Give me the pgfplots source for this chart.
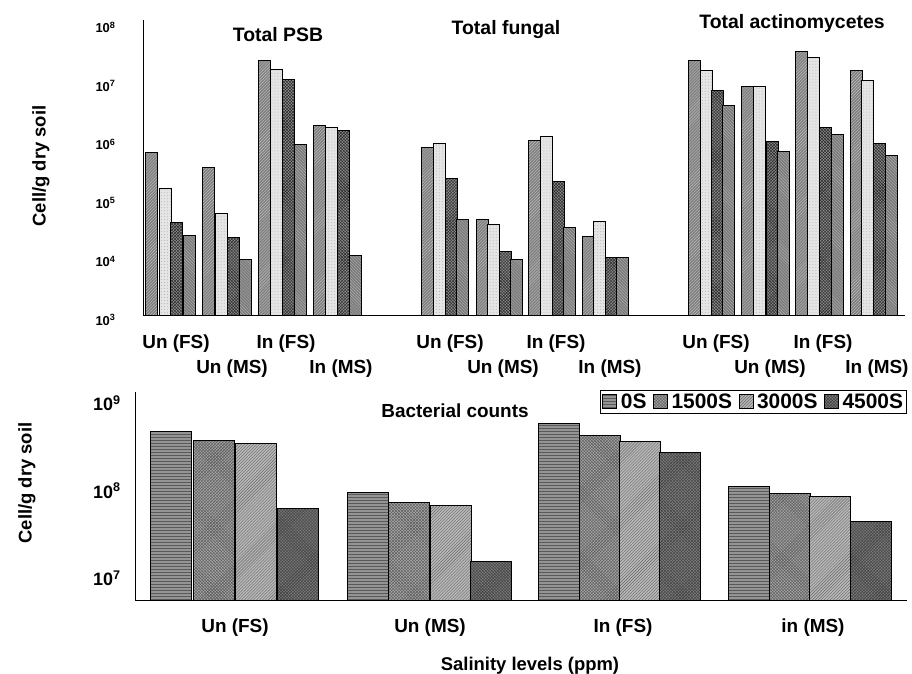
\documentclass[border=0pt]{standalone}
\usepackage{fontspec}
\setmainfont{Liberation Sans}
\usepackage{pgfplots}
\pgfplotsset{compat=1.18}
\usetikzlibrary{patterns}

\pgfplotsset{
  t0/.style={fill=black!50, draw=black, line width=1bp, postaction={pattern=north east lines, pattern color=black!25}},
  t1/.style={fill=black!10, draw=black, line width=1bp, postaction={pattern=dots, pattern color=black!30}},
  t2/.style={fill=black!45, draw=black, line width=1bp, postaction={pattern=crosshatch, pattern color=black!85}},
  t3/.style={fill=black!52, draw=black, line width=1bp, postaction={pattern=north west lines, pattern color=black!30}},
  b0/.style={fill=black!42, draw=black, line width=1bp, postaction={pattern=horizontal lines, pattern color=black!65}},
  b1/.style={fill=black!35, draw=black, line width=1bp, postaction={pattern=crosshatch, pattern color=black!65}},
  b2/.style={fill=black!28, draw=black, line width=1bp, postaction={pattern=north east lines, pattern color=black!60}},
  b3/.style={fill=black!52, draw=black, line width=1bp, postaction={pattern=crosshatch, pattern color=black!75}},
}

\begin{document}
\begin{tikzpicture}
\useasboundingbox (0bp,0bp) rectangle (912bp,674bp);

% ---------- top panel ----------
\begin{axis}[
  at={(143bp,358bp)}, anchor=south west,
  scale only axis, width=762bp, height=296bp,
  xmin=143, xmax=905,
  ymode=log, ymin=1e3, ymax=1.15e8, log origin=infty,
  ybar, bar width=12,
  axis x line*=bottom, axis y line*=left,
  axis line style={-, line width=1bp},
  major tick length=0pt, minor tick length=0pt,
  ytick={1e3,1e4,1e5,1e6,1e7,1e8},
  yticklabels={\textbf{10}\textsuperscript{\textbf{3}},\textbf{10}\textsuperscript{\textbf{4}},\textbf{10}\textsuperscript{\textbf{5}},\textbf{10}\textsuperscript{\textbf{6}},\textbf{10}\textsuperscript{\textbf{7}},\textbf{10}\textsuperscript{\textbf{8}}},
  yticklabel style={font=\fontsize{13}{14}\selectfont, xshift=-24bp, yshift=-4bp},
  xtick={176,286,450,556,716,823},
  xticklabels={Un (FS),In (FS),Un (FS),In (FS),Un (FS),In (FS)},
  extra x ticks={232,341,503,610,770,877},
  extra x tick labels={Un (MS),In (MS),Un (MS),In (MS),Un (MS),In (MS)},
  extra x tick style={xticklabel style={yshift=-25bp}},
  xticklabel style={font=\fontsize{19}{20}\selectfont\bfseries, yshift=-15bp},
]
% 0S
\addplot[t0, bar shift=0pt] coordinates {
 (151.5,6.2e5) (208.5,3.4e5) (264.5,2.3e7) (319.5,1.8e6)
 (427.5,7.6e5) (482,4.4e4) (534.5,1.0e6) (588,2.3e4)
 (694,2.3e7) (747.5,8.5e6) (801,3.3e7) (856,1.55e7)};
% 1500S
\addplot[t1, bar shift=0pt] coordinates {
 (165,1.5e5) (221,5.7e4) (276.5,1.66e7) (331.5,1.66e6)
 (439.5,8.9e5) (493.5,3.7e4) (546,1.18e6) (599,4.2e4)
 (706,1.55e7) (759.5,8.5e6) (813,2.6e7) (867.5,1.05e7)};
% 3000S
\addplot[t2, bar shift=0pt] coordinates {
 (176.5,4.0e4) (233,2.2e4) (288,1.1e7) (343,1.48e6)
 (451.5,2.2e5) (505,1.27e4) (558,2.0e5) (611,1.0e4)
 (717.5,7.3e6) (772,9.6e5) (825.5,1.66e6) (879,8.9e5)};
% 4500S
\addplot[t3, bar shift=0pt] coordinates {
 (189,2.4e4) (245,9.3e3) (300,8.5e5) (355,1.08e4)
 (462.5,4.5e4) (516.5,9.3e3) (569.5,3.2e4) (622.5,1.0e4)
 (728.5,4.0e6) (783,6.5e5) (837.5,1.26e6) (891,5.5e5)};
\end{axis}

% ---------- bottom panel ----------
\begin{axis}[
  at={(135bp,73bp)}, anchor=south west,
  scale only axis, width=772bp, height=209bp,
  xmin=135, xmax=907,
  ymode=log, ymin=5.5e6, ymax=1.34e9, log origin=infty,
  ybar, bar width=41,
  axis x line*=bottom, axis y line*=left,
  axis line style={-, line width=1bp},
  major tick length=0pt, minor tick length=0pt,
  ytick={1e7,1e8,1e9},
  yticklabels={10\textsuperscript{7},10\textsuperscript{8},10\textsuperscript{9}},
  yticklabel style={font=\fontsize{18}{19}\selectfont\bfseries, xshift=-11bp},
  xtick={235,430,623,813},
  xticklabels={Un (FS),Un (MS),In (FS),in (MS)},
  xticklabel style={font=\fontsize{19}{20}\selectfont\bfseries, yshift=-14bp},
  legend columns=4,
  legend style={at={(1,1.01)}, anchor=north east, draw=black, line width=1bp,
    font=\fontsize{21}{22}\selectfont\bfseries, inner sep=2bp,
    nodes={inner sep=1.5bp},
    /tikz/every odd column/.append style={column sep=2bp},
    /tikz/every even column/.append style={column sep=5bp}},
  legend image code/.code={\draw[#1] (0bp,-7bp) rectangle (14bp,7bp);},
]
\addplot[b0, bar shift=0pt] coordinates {(171,4.8e8) (367.5,9.6e7) (558.5,5.9e8) (748.5,1.13e8)};
\addlegendentry{0S}
\addplot[b1, bar shift=0pt] coordinates {(214,3.7e8) (409,7.4e7) (599.5,4.3e8) (789.5,9.4e7)};
\addlegendentry{1500S}
\addplot[b2, bar shift=0pt] coordinates {(256,3.5e8) (451,6.8e7) (640,3.6e8) (830,8.5e7)};
\addlegendentry{3000S}
\addplot[b3, bar shift=0pt] coordinates {(297.5,6.3e7) (490.5,1.56e7) (680,2.75e8) (871,4.4e7)};
\addlegendentry{4500S}
\end{axis}

% ---------- titles and labels ----------
\node[font=\fontsize{19.5}{20}\selectfont\bfseries] at (278bp,639bp) {Total PSB};
\node[font=\fontsize{19.5}{20}\selectfont\bfseries] at (506bp,644bp) {Total fungal};
\node[font=\fontsize{19.5}{20}\selectfont\bfseries] at (792bp,651bp) {Total actinomycetes};
\node[font=\fontsize{19}{20}\selectfont\bfseries] at (455bp,263bp) {Bacterial counts};
\node[font=\fontsize{18.5}{20}\selectfont\bfseries, rotate=90] at (41bp,508bp) {Cell/g dry soil};
\node[font=\fontsize{18.5}{20}\selectfont\bfseries, rotate=90] at (27bp,191bp) {Cell/g dry soil};
\node[font=\fontsize{18.5}{20}\selectfont\bfseries, anchor=base] at (530bp,4bp) {Salinity levels (ppm)};
\end{tikzpicture}
\end{document}
